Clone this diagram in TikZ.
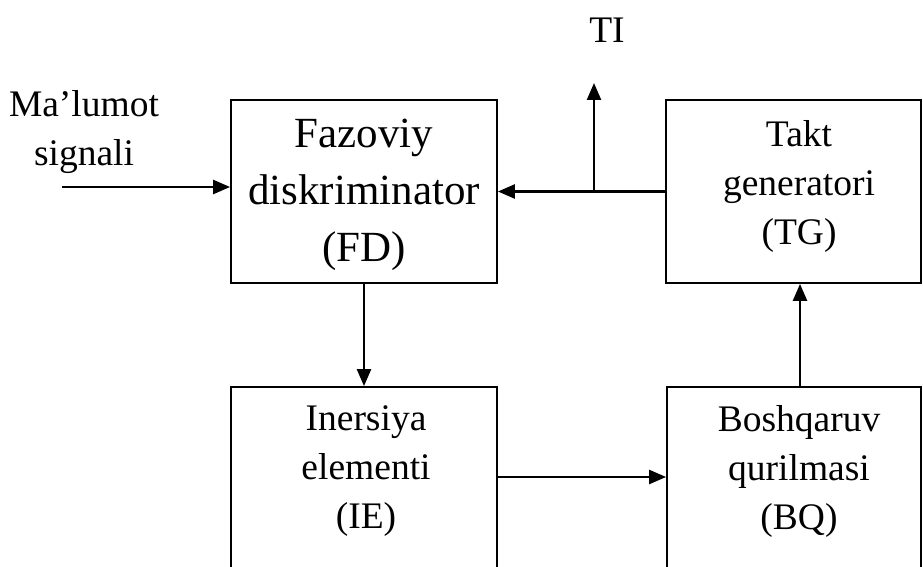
\documentclass[tikz,border=0pt]{standalone}
\usepackage{fontspec}
\setmainfont{Liberation Serif}
\usetikzlibrary{arrows.meta}
\begin{document}
\begin{tikzpicture}[x=1pt,y=-1pt,
  box/.style={draw, line width=1.8pt, rectangle, inner sep=0pt},
  big/.style={font=\fontsize{43}{57}\selectfont, align=center, inner sep=0pt},
  txt/.style={font=\fontsize{37.5}{49}\selectfont, align=center, inner sep=0pt},
  arr/.style={line width=2.4pt, -{Triangle[length=17pt,width=14pt]}}]
\clip (0,0) rectangle (923,567);
\fill[white] (0,0) rectangle (923,567);
% boxes
\node[box, minimum width=266pt, minimum height=183pt] (fd) at (364,191.5) {};
\node[box, minimum width=255pt, minimum height=183pt] (tg) at (793.5,191.5) {};
\node[box, minimum width=266pt, minimum height=213pt] (ie) at (364,493.5) {};
\node[box, minimum width=254pt, minimum height=213pt] (bq) at (794,493.5) {};
% texts
\node[big] (fdt) at (364,195) {Fazoviy\\diskriminator\\(FD)};
\node[txt] (tgt) at (799,186) {Takt\\generatori\\(TG)};
\node[txt] (iet) at (366,471) {Inersiya\\elementi\\(IE)};
\node[txt] (bqt) at (799,471) {Boshqaruv\\qurilmasi\\(BQ)};
\node[txt] (ms) at (84,132) {Ma’lumot\\signali};
\node[txt] (ti) at (607,30) {TI};
% helper coordinates
\coordinate (in) at (62,187);
\coordinate (br) at (594,191.5);
\coordinate (tip) at (594,83);
\coordinate (cx) at (800,0);
\coordinate (cy) at (0,477);
% connectors
\draw[arr] (in) -- (in -| fd.west);
\draw[arr] (tg.west) -- (fd.east);
\draw[arr] (br) -- (tip);
\draw[arr] (fd.south) -- (ie.north);
\draw[arr] (bq.north -| cx) -- (tg.south -| cx);
\draw[arr] (ie.east |- cy) -- (bq.west |- cy);
\end{tikzpicture}
\end{document}
